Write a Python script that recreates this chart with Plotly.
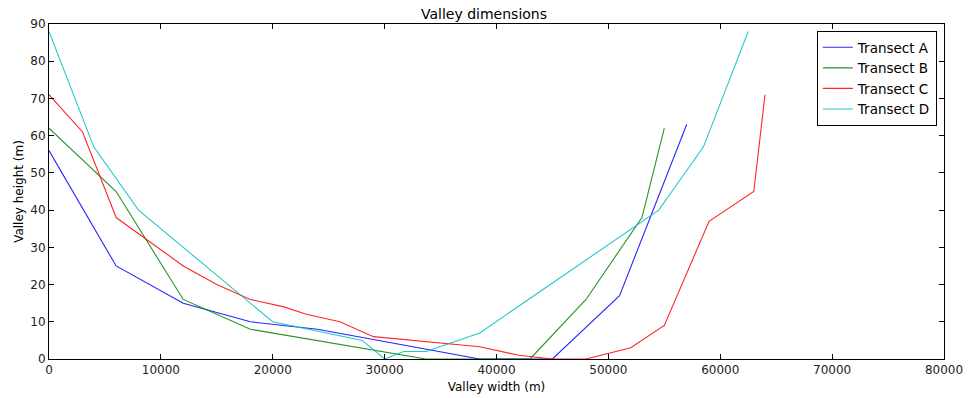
import plotly.graph_objects as go

# Data
a_x = [0, 6000, 12000, 18000, 24000, 38500, 45000, 51000, 57000]
a_y = [56, 25, 15, 10, 8, 0, 0, 17, 63]

b_x = [0, 6000, 12000, 18000, 33700, 43000, 48000, 53000, 55000]
b_y = [62, 45, 16, 8, 0, 0, 16, 38, 62]

c_x = [0, 3000, 6000, 12000, 15000, 18000, 21000, 23000, 26000, 29000, 38500,
       42000, 45000, 48000, 52000, 55000, 59000, 63000, 64000]
c_y = [71, 61, 38, 25, 20, 16, 14, 12, 10, 6, 3.3, 1, 0, 0, 3, 9, 37, 45, 71]

d_x = [0, 4000, 8000, 20000, 28000, 30000, 31700, 33700, 38500, 54500, 58500, 62500]
d_y = [88, 57, 40, 10, 5, 0, 2, 2, 7, 40, 57, 88]

names = ["Transect A", "Transect B", "Transect C", "Transect D"]
colors = ["#0000ff", "#008000", "#ff0000", "#00bfbf"]
series = [(a_x, a_y), (b_x, b_y), (c_x, c_y), (d_x, d_y)]

x_ticks = [0, 10000, 20000, 30000, 40000, 50000, 60000, 70000, 80000]
y_ticks = [0, 10, 20, 30, 40, 50, 60, 70, 80, 90]

fig = go.Figure()
for (xs, ys), n, c in zip(series, names, colors):
    fig.add_trace(go.Scatter(x=xs, y=ys, mode="lines", name=n,
                             line=dict(color=c, width=1.1), opacity=0.85))

font = "DejaVu Sans, sans-serif"
axis_common = dict(showline=True, linecolor="black", linewidth=1, mirror="ticks",
                   ticks="inside", ticklen=5, tickcolor="black", showgrid=False,
                   zeroline=False, automargin=False,
                   tickfont=dict(family=font, size=12, color="#222"))

fig.update_layout(
    width=968, height=398,
    margin=dict(l=49, r=24, t=24, b=39),
    paper_bgcolor="white", plot_bgcolor="white",
    title=dict(text="Valley dimensions", x=0.5, xanchor="center", y=0.965, yanchor="middle",
               font=dict(family=font, size=14, color="black")),
    xaxis=dict(range=[0, 80000], tickvals=x_ticks, ticktext=[str(v) for v in x_ticks],
               title=dict(text="Valley width (m)", standoff=6,
                          font=dict(family=font, size=12, color="black")),
               **axis_common),
    yaxis=dict(range=[0, 90], tickvals=y_ticks, ticktext=[str(v) for v in y_ticks],
               title=dict(text="Valley height (m)", standoff=4,
                          font=dict(family=font, size=12, color="black")),
               **axis_common),
    legend=dict(x=0.992, y=0.979, xanchor="right", yanchor="top",
                bordercolor="black", borderwidth=1, bgcolor="white",
                font=dict(family=font, size=13.5, color="black"),
                tracegroupgap=0, itemwidth=30),
    showlegend=True,
)

fig.write_html("out.html")
